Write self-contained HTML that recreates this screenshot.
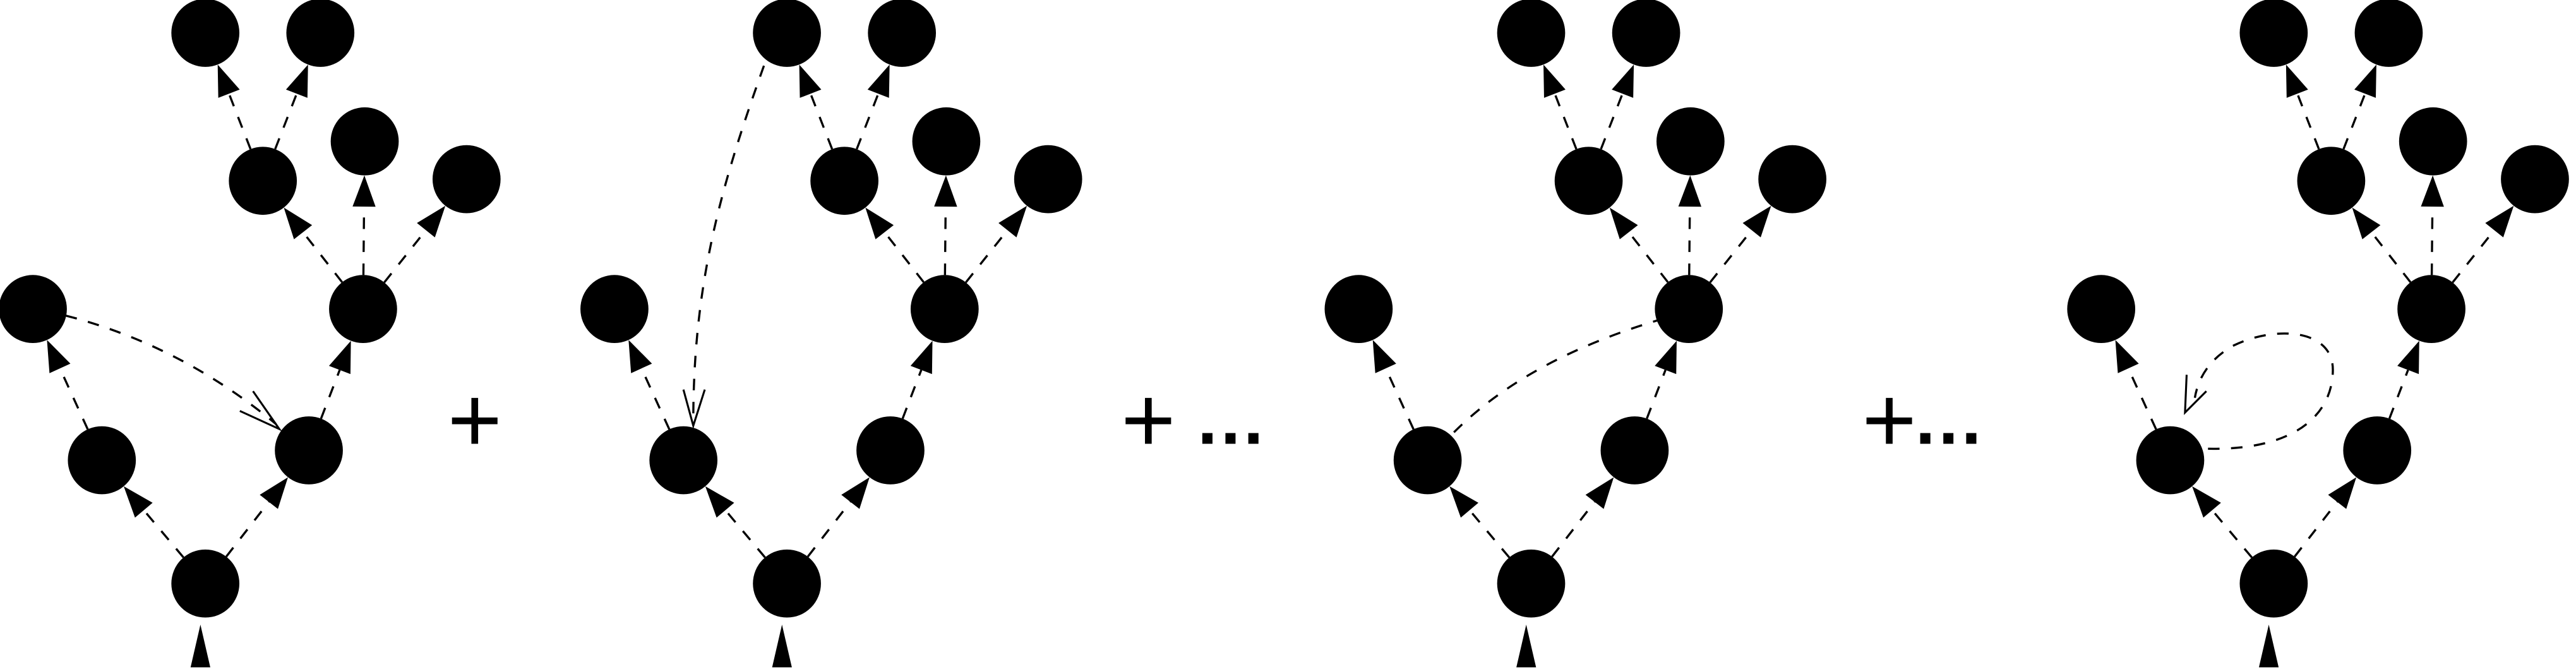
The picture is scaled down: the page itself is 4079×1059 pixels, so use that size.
<!DOCTYPE html>
<html><head><meta charset="utf-8"><style>
html,body{margin:0;padding:0;background:#fff;}
svg{display:block;}
</style></head><body>
<svg id="fig" width="4079" height="1059" viewBox="0 0 1568 407" preserveAspectRatio="none" xmlns="http://www.w3.org/2000/svg">
<g id="g"></g>
<text x="289" y="275" font-family="Liberation Sans, sans-serif" font-size="57" text-anchor="middle">+</text>
<text x="699" y="275" font-family="Liberation Sans, sans-serif" font-size="57" text-anchor="middle">+</text>
<text x="749" y="270" font-family="Liberation Sans, sans-serif" font-size="44" font-weight="bold" text-anchor="middle">…</text>
<text x="1150" y="275" font-family="Liberation Sans, sans-serif" font-size="57" text-anchor="middle">+</text>
<text x="1186" y="270" font-family="Liberation Sans, sans-serif" font-size="44" font-weight="bold" text-anchor="middle">…</text>
</svg>
<script>
const treeOffsets = [0, 354, 807, 1259];
const nodeNames = ['root','l1','r1','l2','r2','a','b','c','d','e'];
const nodeX = [125, 62, 188, 20, 221, 160, 222, 284, 125, 195];
const nodeY = [355, 280, 274, 188, 188, 110, 86, 109, 20, 20];
const edgeFrom = [0, 0, 1, 2, 4, 4, 4, 5, 5];
const edgeTo   = [1, 2, 3, 4, 5, 6, 7, 8, 9];
const R = 20.7, AL = 19, AW = 7;
const NS = 'http://www.w3.org/2000/svg';
const g = document.getElementById('g');
function mk(tag, attrs){const e=document.createElementNS(NS,tag);for(const k in attrs)e.setAttribute(k,attrs[k]);g.appendChild(e);return e;}
treeOffsets.forEach((ox, t) => {
  edgeFrom.forEach((f, i) => {
    const to = edgeTo[i];
    const x1=nodeX[f]+ox, y1=nodeY[f], x2=nodeX[to]+ox, y2=nodeY[to];
    const dx=x2-x1, dy=y2-y1, L=Math.hypot(dx,dy), ux=dx/L, uy=dy/L;
    const sx=x1+ux*R, sy=y1+uy*R, tx=x2-ux*R, ty=y2-uy*R;
    const bx=tx-ux*AL, by=ty-uy*AL;
    const ln = mk('line',{x1:sx,y1:sy,x2:bx,y2:by,stroke:'#000','stroke-width':1.3,'stroke-dasharray':'7,7'});
    
    
    const ah = mk('polygon',{points:`${tx},${ty} ${bx-uy*AW},${by+ux*AW} ${bx+uy*AW},${by-ux*AW}`,fill:'#000'});
    
    
  });
  nodeNames.forEach((n, i) => {
    const c = mk('circle',{cx:nodeX[i]+ox,cy:nodeY[i],r:R,fill:'#000'});
    
    
  });
  const rx = nodeX[0]+ox;
  const inp = mk('polygon',{points:`${rx-3},380 ${rx-9},406 ${rx+3},406`,fill:'#000'});
  
  
});
const extras = [
 {d:'M 40,192 Q 110,210 168,258', tip:[170,261], w1:[146,250], w2:[154,238]},
 {d:'M 465,40 C 440,110 422,170 422,256', tip:[422,259], w1:[416,237], w2:[429,237]},
 {d:'M 885,263 Q 930,218 1012,194', tip:null},
 {d:'M 1344,273 C 1400,274 1420,250 1420,225 C 1420,200 1385,198 1360,210 C 1345,218 1338,230 1336,242', tip:[1330,251], w1:[1331,228], w2:[1343,238]}
];
extras.forEach((e, i) => {
  const p = mk('path',{d:e.d,fill:'none',stroke:'#000','stroke-width':1.3,'stroke-dasharray':'7,7'});
  
  
  if (e.tip) {
    const a = mk('polyline',{points:`${e.w1[0]},${e.w1[1]} ${e.tip[0]},${e.tip[1]} ${e.w2[0]},${e.w2[1]}`,fill:'none',stroke:'#000','stroke-width':1.2});
    
    
  }
});
</script>
</body></html>
